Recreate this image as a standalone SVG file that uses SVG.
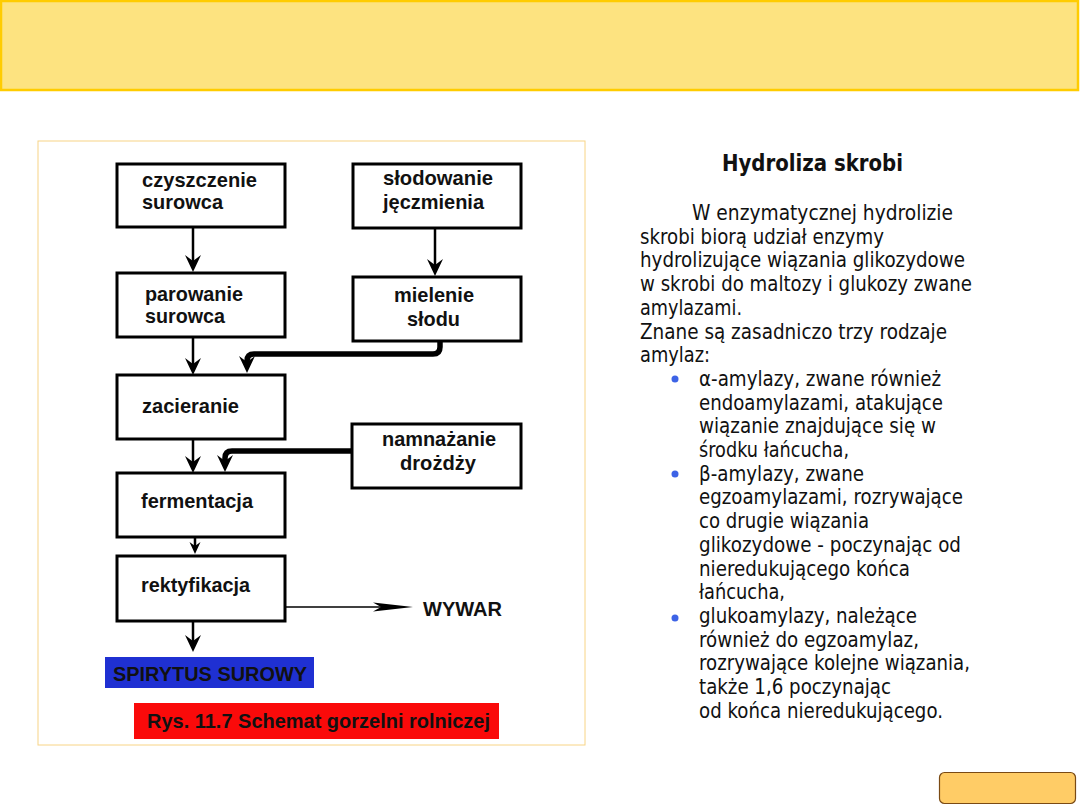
<svg xmlns="http://www.w3.org/2000/svg" width="1080" height="810" viewBox="0 0 1080 810">
<style>
.box{fill:#fff;stroke:#000;stroke-width:3}
.lbl{font-family:"Liberation Sans",Arial,sans-serif;font-weight:bold;font-size:21px;fill:#111}
.body{font-family:"DejaVu Sans",sans-serif;font-size:21.5px;fill:#111}
.thin{fill:none;stroke:#000;stroke-width:2.5}
.thick{fill:none;stroke:#000;stroke-width:5.5;stroke-linejoin:round}
.bul{fill:#3D63E6}
</style>
<defs>
<marker id="ah" markerUnits="userSpaceOnUse" viewBox="0 -8 17 16" refX="9" refY="0" markerWidth="17" markerHeight="16" orient="auto">
<path d="M0,-8 L17,0 L0,8 L6,0 Z" fill="#000"/>
</marker>
<marker id="ahs" markerUnits="userSpaceOnUse" viewBox="0 -6 12 12" refX="7" refY="0" markerWidth="12" markerHeight="12" orient="auto">
<path d="M0,-5.5 L12,0 L0,5.5 L4,0 Z" fill="#000"/>
</marker>
<marker id="ahw" markerUnits="userSpaceOnUse" viewBox="0 -5 40 10" refX="10" refY="0" markerWidth="40" markerHeight="10" orient="auto">
<path d="M0,-4.5 L40,0 L0,4.5 L8,0 Z" fill="#000"/>
</marker>
</defs>
<rect width="1080" height="810" fill="#fff"/>
<rect id="header" x="1" y="1" width="1077" height="89" fill="#FDE380" stroke="#FFCC00" stroke-width="2.5"/>
<rect id="frame" x="38" y="141" width="547" height="604" fill="#fff" stroke="#F8D485" stroke-width="1"/>

<g id="connectors">
<path class="thin" d="M193,227 V264" marker-end="url(#ah)"/>
<path class="thin" d="M193,337 V367" marker-end="url(#ah)"/>
<path class="thin" d="M435,229 V268" marker-end="url(#ah)"/>
<path class="thick" d="M440,342 V347 Q440,354 433,354 H254 Q247,354 247,361 V365" marker-end="url(#ah)"/>
<path class="thin" d="M193,439 V465" marker-end="url(#ah)"/>
<path class="thick" d="M352,451 H232 Q225,451 225,458 V464" marker-end="url(#ah)"/>
<path class="thin" d="M195,537 V549" marker-end="url(#ahs)"/>
<path class="thin" d="M193,621 V644" marker-end="url(#ah)"/>
<path fill="none" stroke="#000" stroke-width="1.5" d="M286,607 H383" marker-end="url(#ahw)"/>
</g>

<g id="n-czyszczenie"><rect class="box" x="117" y="164" width="168" height="63"/>
<text class="lbl" x="142" y="187" textLength="115" lengthAdjust="spacingAndGlyphs">czyszczenie</text>
<text class="lbl" x="142" y="209" textLength="81" lengthAdjust="spacingAndGlyphs">surowca</text></g>

<g id="n-parowanie"><rect class="box" x="117" y="273" width="168" height="64"/>
<text class="lbl" x="145" y="301" textLength="98" lengthAdjust="spacingAndGlyphs">parowanie</text>
<text class="lbl" x="145" y="323" textLength="80" lengthAdjust="spacingAndGlyphs">surowca</text></g>

<g id="n-slodowanie"><rect class="box" x="353" y="164" width="168" height="64"/>
<text class="lbl" x="383" y="185" textLength="110" lengthAdjust="spacingAndGlyphs">słodowanie</text>
<text class="lbl" x="383" y="209" textLength="101" lengthAdjust="spacingAndGlyphs">jęczmienia</text></g>

<g id="n-mielenie"><rect class="box" x="353" y="277" width="168" height="64"/>
<text class="lbl" x="394" y="302" textLength="80" lengthAdjust="spacingAndGlyphs">mielenie</text>
<text class="lbl" x="407" y="326" textLength="53" lengthAdjust="spacingAndGlyphs">słodu</text></g>

<g id="n-zacieranie"><rect class="box" x="117" y="375" width="168" height="64"/>
<text class="lbl" x="142" y="413" textLength="97" lengthAdjust="spacingAndGlyphs">zacieranie</text></g>

<g id="n-namnazanie"><rect class="box" x="352" y="424" width="169" height="64"/>
<text class="lbl" x="382" y="446" textLength="114" lengthAdjust="spacingAndGlyphs">namnażanie</text>
<text class="lbl" x="400" y="470" textLength="76" lengthAdjust="spacingAndGlyphs">drożdży</text></g>

<g id="n-fermentacja"><rect class="box" x="117" y="473" width="168" height="64"/>
<text class="lbl" x="141" y="508" textLength="112" lengthAdjust="spacingAndGlyphs">fermentacja</text></g>

<g id="n-rektyfikacja"><rect class="box" x="117" y="556" width="168" height="65"/>
<text class="lbl" x="141" y="592" textLength="109" lengthAdjust="spacingAndGlyphs">rektyfikacja</text></g>

<g id="n-wywar">
<text class="lbl" x="423" y="616" font-size="19" textLength="79" lengthAdjust="spacingAndGlyphs">WYWAR</text></g>

<g id="n-spirytus"><rect x="105" y="657" width="209" height="31" fill="#1F30D2"/>
<text class="lbl" x="113" y="681" font-size="19.5" textLength="194" lengthAdjust="spacingAndGlyphs">SPIRYTUS SUROWY</text></g>

<g id="caption"><rect x="134" y="703" width="365" height="36" fill="#FA0A0A"/>
<text class="lbl" x="147" y="728" textLength="343" lengthAdjust="spacingAndGlyphs">Rys. 11.7 Schemat gorzelni rolniczej</text></g>

<g id="text-panel">
<text x="722" y="171" font-family="DejaVu Sans,sans-serif" font-weight="bold" font-size="22.5" fill="#111" textLength="181" lengthAdjust="spacingAndGlyphs">Hydroliza skrobi</text>
<text class="body" x="692" y="220" textLength="261" lengthAdjust="spacingAndGlyphs">W enzymatycznej  hydrolizie</text>
<text class="body" x="640" y="243.7" textLength="244" lengthAdjust="spacingAndGlyphs">skrobi biorą udział enzymy</text>
<text class="body" x="640" y="267.4" textLength="325" lengthAdjust="spacingAndGlyphs">hydrolizujące wiązania glikozydowe</text>
<text class="body" x="640" y="291.1" textLength="332" lengthAdjust="spacingAndGlyphs">w skrobi do maltozy i glukozy zwane</text>
<text class="body" x="640" y="314.8" textLength="102" lengthAdjust="spacingAndGlyphs">amylazami.</text>
<text class="body" x="640" y="338.5" textLength="307" lengthAdjust="spacingAndGlyphs">Znane są zasadniczo trzy rodzaje</text>
<text class="body" x="640" y="362.2" textLength="70" lengthAdjust="spacingAndGlyphs">amylaz:</text>
<circle class="bul" cx="675" cy="379" r="3.5"/>
<text class="body" x="699" y="385.9" textLength="242" lengthAdjust="spacingAndGlyphs">α-amylazy, zwane również</text>
<text class="body" x="699" y="409.6" textLength="244" lengthAdjust="spacingAndGlyphs">endoamylazami, atakujące</text>
<text class="body" x="699" y="433.3" textLength="237" lengthAdjust="spacingAndGlyphs">wiązanie znajdujące się w</text>
<text class="body" x="699" y="457" textLength="150" lengthAdjust="spacingAndGlyphs">środku łańcucha,</text>
<circle class="bul" cx="675" cy="474" r="3.5"/>
<text class="body" x="699" y="480.7" textLength="165" lengthAdjust="spacingAndGlyphs">β-amylazy, zwane</text>
<text class="body" x="699" y="504.4" textLength="264" lengthAdjust="spacingAndGlyphs">egzoamylazami, rozrywające</text>
<text class="body" x="699" y="528.1" textLength="170" lengthAdjust="spacingAndGlyphs">co drugie wiązania</text>
<text class="body" x="699" y="551.8" textLength="262" lengthAdjust="spacingAndGlyphs">glikozydowe - poczynając od</text>
<text class="body" x="699" y="575.5" textLength="211" lengthAdjust="spacingAndGlyphs">nieredukującego końca</text>
<text class="body" x="699" y="599.2" textLength="86" lengthAdjust="spacingAndGlyphs">łańcucha,</text>
<circle class="bul" cx="675" cy="618" r="3.5"/>
<text class="body" x="699" y="622.9" textLength="218" lengthAdjust="spacingAndGlyphs">glukoamylazy, należące</text>
<text class="body" x="699" y="646.6" textLength="220" lengthAdjust="spacingAndGlyphs">również do egzoamylaz,</text>
<text class="body" x="699" y="670.3" textLength="271" lengthAdjust="spacingAndGlyphs">rozrywające kolejne wiązania,</text>
<text class="body" x="699" y="694" textLength="192" lengthAdjust="spacingAndGlyphs">także 1,6 poczynając</text>
<text class="body" x="699" y="717.7" textLength="244" lengthAdjust="spacingAndGlyphs">od końca nieredukującego.</text>
</g>

<rect id="nav-button" x="939.5" y="772.5" width="136" height="31" rx="5" fill="#FFCC66" stroke="#7A4A14" stroke-width="1.2"/>
</svg>
